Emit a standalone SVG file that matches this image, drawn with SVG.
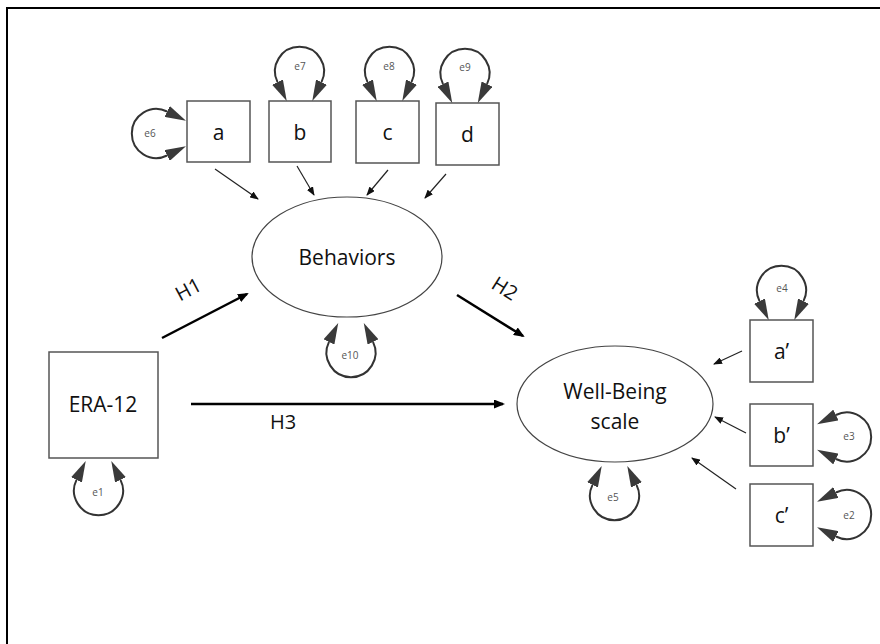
<svg xmlns="http://www.w3.org/2000/svg" width="880" height="644" viewBox="0 0 880 644">
<defs>
<style>
.box{fill:#fff;stroke:#555;stroke-width:1.5}
.ell{fill:#fff;stroke:#444;stroke-width:1.2}
.lbl{font-family:"Open Sans","Liberation Sans",Arial,sans-serif;font-size:21px;fill:#111;text-anchor:middle;dominant-baseline:central}
.hl{font-family:"Open Sans","Liberation Sans",Arial,sans-serif;font-size:20px;fill:#111;text-anchor:middle;dominant-baseline:central}
.err{font-family:"Open Sans","Liberation Sans",Arial,sans-serif;font-size:10px;fill:#555;text-anchor:middle;dominant-baseline:central}
.loop{fill:none;stroke:#333;stroke-width:2;marker-start:url(#lh);marker-end:url(#lh)}
.thin{stroke:#222;stroke-width:1.2;marker-end:url(#sh)}
.hyp{stroke:#000;stroke-width:2.5;marker-end:url(#bh)}
</style>
<marker id="lh" viewBox="0 0 21 12" refX="0" refY="6" markerWidth="21" markerHeight="12" markerUnits="userSpaceOnUse" orient="auto-start-reverse">
<path d="M0,0 L21,6 L0,12 z" fill="#3a3a3a"/>
</marker>
<marker id="sh" viewBox="0 0 9 7" refX="8" refY="3.5" markerWidth="9" markerHeight="7" markerUnits="userSpaceOnUse" orient="auto">
<path d="M0,0 L9,3.5 L0,7 z" fill="#111"/>
</marker>
<marker id="bh" viewBox="0 0 11 9" refX="9" refY="4.5" markerWidth="11" markerHeight="9" markerUnits="userSpaceOnUse" orient="auto">
<path d="M0,0 L11,4.5 L0,9 z" fill="#000"/>
</marker>
<path id="lp" d="M-22,10.7 A24.5,24.5 0 1 1 22,10.7"/>
</defs>
<rect width="880" height="644" fill="#fff"/>
<path d="M7,644 V8 H880" fill="none" stroke="#000" stroke-width="2"/>

<g id="connectors">
<line class="thin" x1="215" y1="169" x2="258" y2="199"/>
<line class="thin" x1="297" y1="166" x2="314" y2="195"/>
<line class="thin" x1="388" y1="170" x2="367" y2="195"/>
<line class="thin" x1="446" y1="174" x2="425" y2="198"/>
<line class="thin" x1="742" y1="351" x2="714" y2="364"/>
<line class="thin" x1="746" y1="433" x2="715" y2="417"/>
<line class="thin" x1="736" y1="489" x2="692" y2="458"/>
<line class="hyp" x1="162" y1="338" x2="247" y2="294"/>
<line class="hyp" x1="457" y1="295" x2="523" y2="336"/>
<line class="hyp" x1="191" y1="404" x2="503" y2="404"/>
<text class="hl" transform="translate(188,289) rotate(-28)">H1</text>
<text class="hl" transform="translate(505,288) rotate(32)">H2</text>
<text class="hl" x="283" y="421">H3</text>
</g>

<g id="node-a"><rect class="box" x="187" y="101" width="63" height="61"/><text class="lbl" x="218.5" y="131.5">a</text></g>
<g id="node-b"><rect class="box" x="269" y="101" width="62" height="61"/><text class="lbl" x="300" y="131.5">b</text></g>
<g id="node-c"><rect class="box" x="356" y="101" width="63" height="62"/><text class="lbl" x="387.5" y="132">c</text></g>
<g id="node-d"><rect class="box" x="436" y="103" width="63" height="62"/><text class="lbl" x="467.5" y="134">d</text></g>
<g id="node-behaviors"><ellipse class="ell" cx="347" cy="257" rx="95" ry="60"/><text class="lbl" x="347" y="257">Behaviors</text></g>
<g id="node-era12"><rect class="box" x="49" y="352" width="109" height="106"/><text class="lbl" x="103" y="404">ERA-12</text></g>
<g id="node-wellbeing"><ellipse class="ell" cx="615" cy="404" rx="98" ry="58"/><text class="lbl" x="615" y="391">Well-Being</text><text class="lbl" x="615" y="421">scale</text></g>
<g id="node-a2"><rect class="box" x="750" y="320" width="63" height="62"/><text class="lbl" x="781.5" y="351">a’</text></g>
<g id="node-b2"><rect class="box" x="750" y="404" width="63" height="62"/><text class="lbl" x="781.5" y="435">b’</text></g>
<g id="node-c2"><rect class="box" x="750" y="484" width="63" height="62"/><text class="lbl" x="781.5" y="515">c’</text></g>

<g id="err-e6"><use href="#lp" class="loop" transform="translate(156.4,133.5) rotate(-90)"/><text class="err" x="150" y="133">e6</text></g>
<g id="err-e7"><use href="#lp" class="loop" transform="translate(299.5,71.4)"/><text class="err" x="300" y="66">e7</text></g>
<g id="err-e8"><use href="#lp" class="loop" transform="translate(389.5,71.4)"/><text class="err" x="389" y="66">e8</text></g>
<g id="err-e9"><use href="#lp" class="loop" transform="translate(465,73.4)"/><text class="err" x="465" y="67">e9</text></g>
<g id="err-e10"><use href="#lp" class="loop" transform="translate(351,352.6) rotate(180)"/><text class="err" x="350" y="355">e10</text></g>
<g id="err-e1"><use href="#lp" class="loop" transform="translate(98.5,490.6) rotate(180)"/><text class="err" x="98" y="492">e1</text></g>
<g id="err-e5"><use href="#lp" class="loop" transform="translate(614.5,495.6) rotate(180)"/><text class="err" x="613" y="497">e5</text></g>
<g id="err-e4"><use href="#lp" class="loop" transform="translate(781.5,290.4)"/><text class="err" x="782" y="288">e4</text></g>
<g id="err-e3"><use href="#lp" class="loop" transform="translate(846.6,437) rotate(90)"/><text class="err" x="849" y="436">e3</text></g>
<g id="err-e2"><use href="#lp" class="loop" transform="translate(846.6,514.5) rotate(90)"/><text class="err" x="849" y="515">e2</text></g>
</svg>
